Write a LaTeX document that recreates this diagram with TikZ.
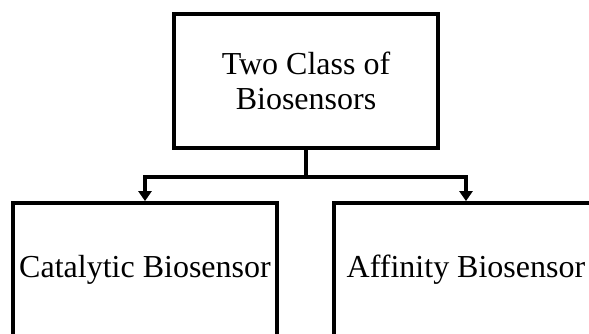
\documentclass[tikz,border=0pt]{standalone}
\usepackage{fontspec}
\setmainfont{Liberation Serif}
\usetikzlibrary{arrows.meta}
\begin{document}
\begin{tikzpicture}[x=1pt,y=1pt,
  box/.style={draw, line width=3.8pt, minimum width=264pt, minimum height=134pt,
    inner sep=0pt, align=center, font=\fontsize{32}{35}\selectfont},
  conn/.style={line width=3.5pt},
  arr/.style={conn, -{Triangle[width=13pt,length=10pt]}}]
\useasboundingbox (0,0) rectangle (589,333);
\clip (0,0) rectangle (589,333);
\node[box] (top) at (306,252) {Two Class of\\Biosensors};
\node[box] (left) at (145,63) {Catalytic Biosensor};
\node[box] (right) at (466,63) {Affinity Biosensor};
\coordinate (j) at (306,156);
\draw[conn] (top.south) -- (j);
\draw[arr] (j) -| (left.north);
\draw[arr] (j) -| (right.north);
\end{tikzpicture}
\end{document}
